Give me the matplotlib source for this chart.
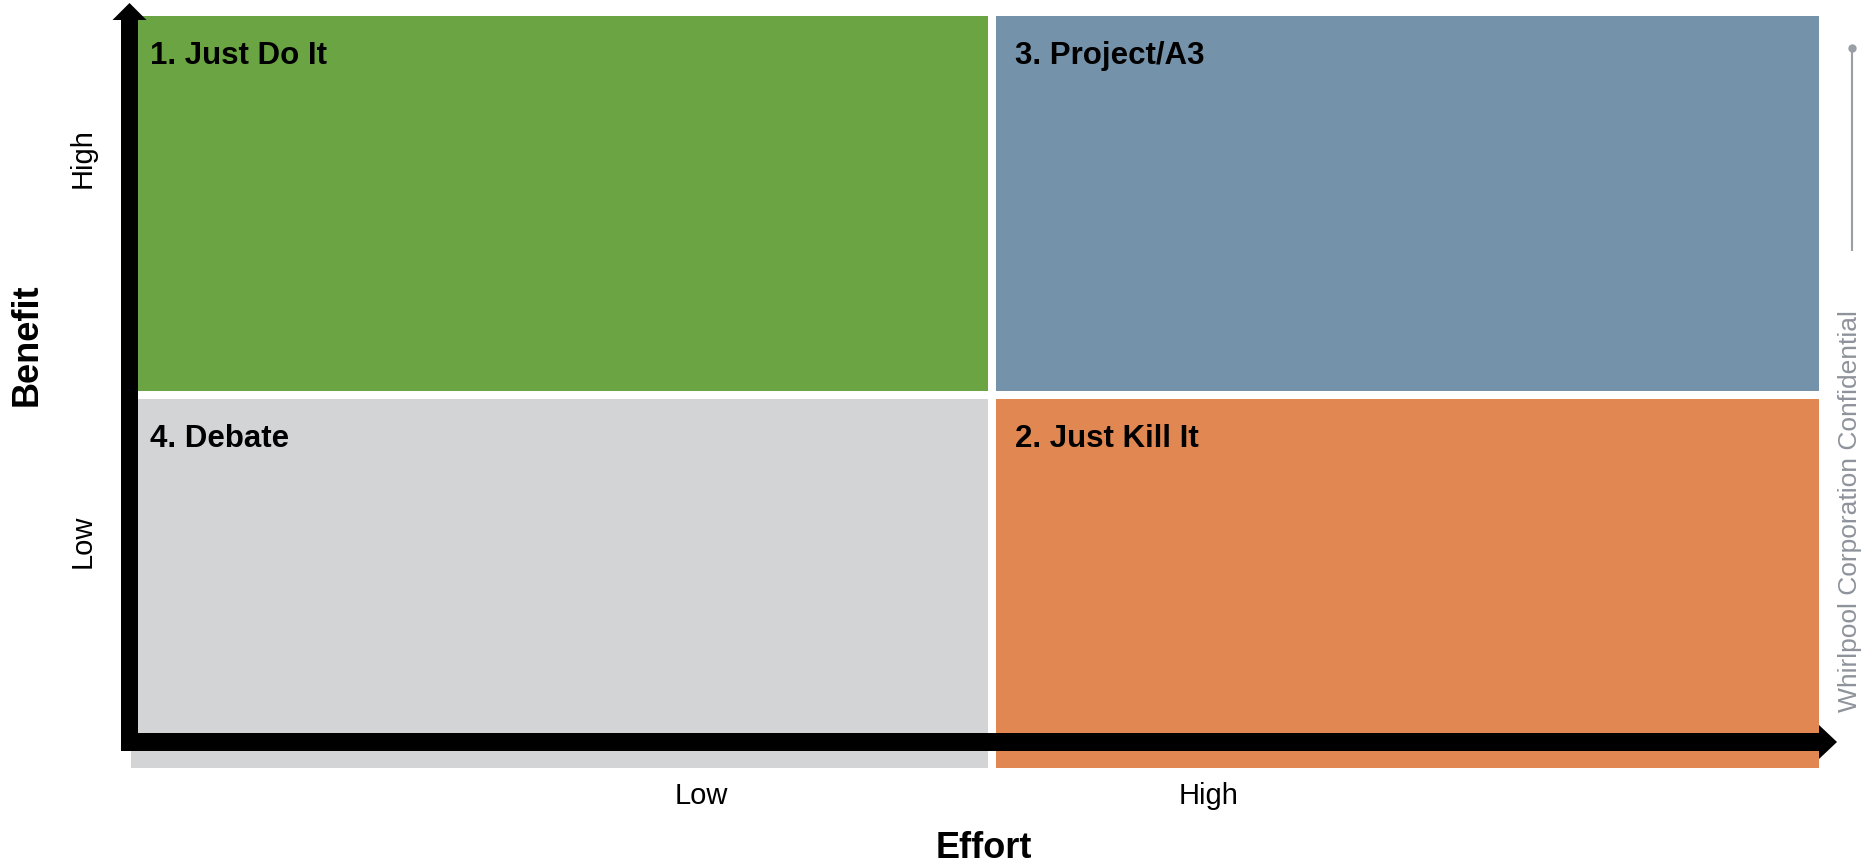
import matplotlib
matplotlib.use("Agg")
import matplotlib.pyplot as plt
from matplotlib.patches import FancyArrow

# Quadrant content
quadrant_titles = ["1. Just Do It", "3. Project/A3", "4. Debate", "2. Just Kill It"]
quadrant_effort = ["Low", "High", "Low", "High"]
quadrant_benefit = ["High", "High", "Low", "Low"]
quadrant_colors = ["#6AA443", "#7492AA", "#D3D4D6", "#E08752"]

effort_ticks = ["Low", "High"]
benefit_ticks = ["Low", "High"]
x_title = "Effort"
y_title = "Benefit"
footer = "Whirlpool Corporation Confidential"

plt.rcParams["font.family"] = ["Liberation Sans", "DejaVu Sans"]

W, H = 1864, 866
fig = plt.figure(figsize=(W / 100, H / 100), dpi=100)
ax = fig.add_axes([0, 0, 1, 1])
ax.set_xlim(0, W)
ax.set_ylim(H, 0)
ax.axis("off")

# Layout of the 2x2 grid (pixel units)
col_span = {"Low": (131, 988), "High": (996, 1819)}
row_span = {"High": (16, 391), "Low": (399, 768)}

for title, eff, ben, color in zip(quadrant_titles, quadrant_effort,
                                  quadrant_benefit, quadrant_colors):
    x0, x1 = col_span[eff]
    y0, y1 = row_span[ben]
    ax.bar(x0, y1 - y0, width=x1 - x0, bottom=y0, align="edge",
           color=color, linewidth=0, zorder=1)
    ax.text(x0 + 19, y0 + 40, title, ha="left", va="center",
            fontsize=22.5, fontweight="bold", color="black", zorder=3)

# Axis arrows
ax.add_patch(FancyArrow(129.5, 751, 0, -748, width=17, head_width=34,
                        head_length=17, length_includes_head=True,
                        color="black", linewidth=0, zorder=4))
ax.add_patch(FancyArrow(121, 742, 1837 - 121, 0, width=18, head_width=34,
                        head_length=18, length_includes_head=True,
                        color="black", linewidth=0, zorder=4))

# Tick labels
x_tick_pos = [701, 1209]
y_tick_pos = [541, 158]
for lab, xp in zip(effort_ticks, x_tick_pos):
    ax.text(xp, 796, lab, ha="center", va="center", fontsize=21)
for lab, yp in zip(benefit_ticks, y_tick_pos):
    ax.text(83, yp, lab, ha="center", va="center", fontsize=21, rotation=90)

# Axis titles
ax.text(984, 849, x_title, ha="center", va="center", fontsize=26,
        fontweight="bold")
ax.text(27, 345, y_title, ha="center", va="center", fontsize=26,
        fontweight="bold", rotation=90)

# Side marker and footer
ax.plot([1852, 1852], [48, 251], color="#9A9EA6", linewidth=1.5,
        solid_capstyle="butt", zorder=2)
ax.plot([1852], [48], marker="o", markersize=6, color="#9A9EA6",
        markeredgewidth=0, zorder=2)
ax.text(1850, 511, footer, ha="center", va="center", fontsize=19,
        rotation=90, color="#8E939B")

fig.savefig("out.png", dpi=100)
